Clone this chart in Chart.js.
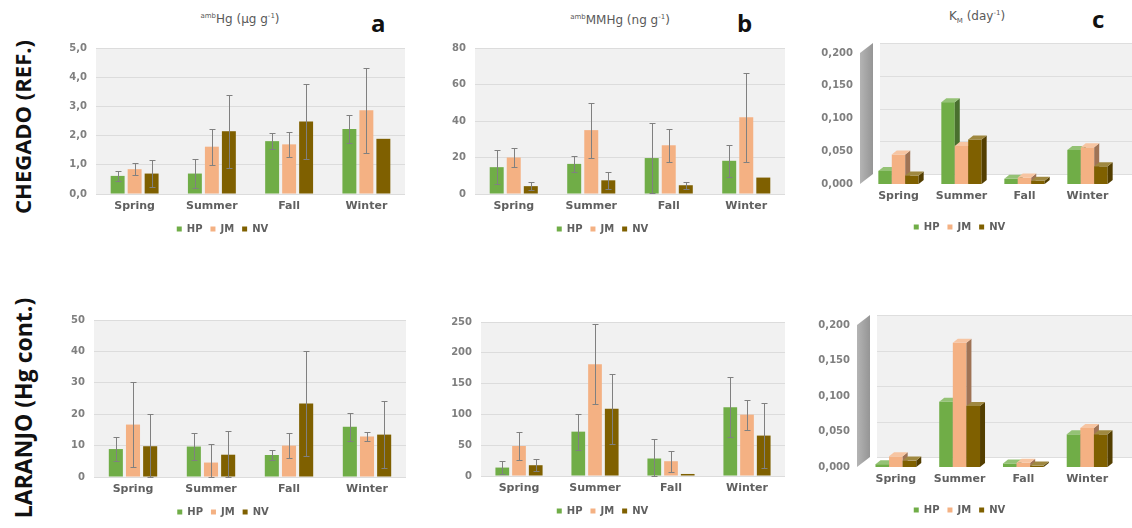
<!DOCTYPE html>
<html>
<head>
<meta charset="utf-8">
<script src="https://cdn.jsdelivr.net/npm/chart.js@4.4.1/dist/chart.umd.min.js"></script>
<style>
  body { margin: 0; width: 1132px; height: 528px; background: #fff; overflow: hidden; position: relative; font-family: "DejaVu Sans", sans-serif; }
  .box { position: absolute; }
  .ttl { position: absolute; color: #595959; font-size: 12px; white-space: nowrap; transform: translateX(-50%); }
  .ttl sup { font-size: 7px; }
  .ttl sub { font-size: 7px; }
  .let { position: absolute; font-family: "Open Sans", sans-serif; font-size: 24px; font-weight: 700; color: #111; }
  .row { position: absolute; font-family: "Open Sans", sans-serif; font-size: 22px; font-weight: 700; color: #111; white-space: nowrap; transform: translate(-50%, -50%) rotate(-90deg); }
</style>
</head>
<body>
<div class="row" style="left:22px; top:127px;">CHEGADO (REF.)</div>
<div class="row" style="left:23px; top:408px; font-size:23px;">LARANJO (Hg cont.)</div>

<div class="ttl" style="left:240px; top:12px;"><sup>amb</sup>Hg (μg g<sup>-1</sup>)</div>
<div class="ttl" style="left:620px; top:13px;"><sup>amb</sup>MMHg (ng g<sup>-1</sup>)</div>
<div class="ttl" style="left:977px; top:9px;">K<sub>M</sub> (day<sup>-1</sup>)</div>
<div class="let" style="left:371px; top:6px;">a</div>
<div class="let" style="left:737px; top:6px;">b</div>
<div class="let" style="left:1092px; top:2px;">c</div>

<div class="box" id="bA1"><canvas id="cA1"></canvas></div>
<div class="box" id="bB1"><canvas id="cB1"></canvas></div>
<div class="box" id="bC1"><canvas id="cC1"></canvas></div>
<div class="box" id="bA2"><canvas id="cA2"></canvas></div>
<div class="box" id="bB2"><canvas id="cB2"></canvas></div>
<div class="box" id="bC2"><canvas id="cC2"></canvas></div>

<script>
// data
const seasons = ['Spring', 'Summer', 'Fall', 'Winter'];
const series = ['HP', 'JM', 'NV'];
const colors = ['#70ad47', '#f4b183', '#7f6000'];

// CHEGADO - ambHg (ug g-1)
const hgRefHP = [0.62, 0.70, 1.81, 2.23];
const hgRefJM = [0.85, 1.62, 1.70, 2.87];
const hgRefNV = [0.70, 2.15, 2.48, 1.89];
const hgRefErrHP = [0.17, 0.50, 0.28, 0.47];
const hgRefErrJM = [0.21, 0.62, 0.42, 1.46];
const hgRefErrNV = [0.46, 1.25, 1.29, 0];
const hgRefTicks = [0, 1, 2, 3, 4, 5];

// CHEGADO - ambMMHg (ng g-1)
const mmhgRefHP = [14.7, 16.5, 19.7, 18.2];
const mmhgRefJM = [20.0, 35.0, 26.7, 42.0];
const mmhgRefNV = [4.3, 7.5, 4.8, 9.0];
const mmhgRefErrHP = [9.3, 4.5, 19.3, 8.8];
const mmhgRefErrJM = [5.0, 15.0, 8.9, 24.5];
const mmhgRefErrNV = [2.3, 4.5, 1.8, 0];
const mmhgRefTicks = [0, 20, 40, 60, 80];

// CHEGADO - KM (day-1)
const kmRefHP = [0.020, 0.125, 0.008, 0.052];
const kmRefJM = [0.045, 0.058, 0.010, 0.056];
const kmRefNV = [0.013, 0.068, 0.005, 0.027];
const kmTicks = [0, 0.05, 0.1, 0.15, 0.2];

// LARANJO - ambHg
const hgConHP = [8.9, 9.7, 7.0, 16.0];
const hgConJM = [16.7, 4.6, 10.0, 12.9];
const hgConNV = [9.8, 7.1, 23.4, 13.5];
const hgConErrHP = [3.8, 4.3, 1.6, 4.5];
const hgConErrJM = [13.6, 5.9, 4.1, 1.4];
const hgConErrNV = [10.2, 7.6, 16.8, 10.6];
const hgConTicks = [0, 10, 20, 30, 40, 50];

// LARANJO - ambMMHg
const mmhgConHP = [13.7, 72.0, 28.4, 111.6];
const mmhgConJM = [48.7, 181.6, 24.0, 99.6];
const mmhgConNV = [17.5, 109.0, 3.3, 65.6];
const mmhgConErrHP = [10.9, 29.0, 31.6, 48.4];
const mmhgConErrJM = [22.3, 64.4, 17.0, 24.4];
const mmhgConErrNV = [9.5, 57.0, 0, 53.1];
const mmhgConTicks = [0, 50, 100, 150, 200, 250];

// LARANJO - KM
const kmConHP = [0.004, 0.092, 0.005, 0.046];
const kmConJM = [0.015, 0.175, 0.006, 0.055];
const kmConNV = [0.009, 0.086, 0.002, 0.046];

const txt = '#606060';
const DX = 5, DY = -4;     // bar depth in 3d panels
const WX = 13, WY = -10;   // back wall offset

function fmt(v, dec) {
    return v.toFixed(dec).replace('.', ',');
}

function shade(hex, f) {
    let n = parseInt(hex.slice(1), 16);
    let r = (n >> 16) & 255, g = (n >> 8) & 255, b = n & 255;
    if (f < 0) { r *= 1 + f; g *= 1 + f; b *= 1 + f; }
    else { r += (255 - r) * f; g += (255 - g) * f; b += (255 - b) * f; }
    return 'rgb(' + Math.round(r) + ',' + Math.round(g) + ',' + Math.round(b) + ')';
}

// flat panels: gray plot background
const plotBg = {
    id: 'plotBg',
    beforeDraw(chart) {
        if (chart.options.plugins.plotBg.is3d) return;
        const a = chart.chartArea, ctx = chart.ctx;
        ctx.save();
        ctx.fillStyle = '#f1f1f1';
        ctx.fillRect(a.left, a.top, a.right - a.left, a.bottom - a.top);
        ctx.restore();
    }
};

// error bars
const errBars = {
    id: 'errBars',
    afterDatasetsDraw(chart) {
        const errs = chart.options.plugins.errBars.errs;
        if (!errs) return;
        const ctx = chart.ctx, y = chart.scales.y;
        ctx.save();
        ctx.strokeStyle = '#808080';
        ctx.lineWidth = 1;
        chart.data.datasets.forEach((ds, i) => {
            chart.getDatasetMeta(i).data.forEach((bar, j) => {
                const e = errs[i][j];
                if (!e) return;
                const v = ds.data[j];
                const x = Math.round(bar.x) + 0.5;
                const t = Math.round(y.getPixelForValue(v + e)) + 0.5;
                const b = Math.round(y.getPixelForValue(Math.max(v - e, 0))) + 0.5;
                ctx.beginPath();
                ctx.moveTo(x, t); ctx.lineTo(x, b);
                ctx.moveTo(x - 3, t); ctx.lineTo(x + 3, t);
                ctx.moveTo(x - 3, b); ctx.lineTo(x + 3, b);
                ctx.stroke();
            });
        });
        ctx.restore();
    }
};

// 3d look for KM panels
const bars3d = {
    id: 'bars3d',
    beforeDatasetsDraw(chart) {
        if (!chart.options.plugins.plotBg.is3d) return;
        const a = chart.chartArea, ctx = chart.ctx, y = chart.scales.y;
        ctx.save();
        // back wall
        ctx.fillStyle = '#f1f1f1';
        ctx.fillRect(a.left + WX, a.top + WY, a.right - a.left, a.bottom - a.top);
        ctx.strokeStyle = '#dedede';
        ctx.lineWidth = 1;
        y.ticks.forEach(t => {
            const py = Math.round(y.getPixelForValue(t.value) + WY) + 0.5;
            ctx.beginPath();
            ctx.moveTo(a.left + WX, py);
            ctx.lineTo(a.right + WX, py);
            ctx.stroke();
        });
        // side wall
        const g = ctx.createLinearGradient(a.left - 7, 0, a.left + WX - 7, 0);
        g.addColorStop(0, '#b4b4b4');
        g.addColorStop(1, '#959595');
        ctx.fillStyle = g;
        ctx.beginPath();
        ctx.moveTo(a.left - 7, a.bottom);
        ctx.lineTo(a.left - 7, a.top);
        ctx.lineTo(a.left - 7 + WX, a.top + WY);
        ctx.lineTo(a.left - 7 + WX, a.bottom + WY);
        ctx.closePath();
        ctx.fill();
        // bars, left to right inside each group
        chart.data.datasets.forEach((ds, i) => {
            const c = ds.backgroundColor;
            chart.getDatasetMeta(i).data.forEach(bar => {
                const l = bar.x - bar.width / 2, r = bar.x + bar.width / 2;
                const t = bar.y, b = bar.base;
                ctx.fillStyle = c;
                ctx.fillRect(l, t, r - l, b - t);
                ctx.fillStyle = shade(c, -0.35);
                ctx.beginPath();
                ctx.moveTo(r, b); ctx.lineTo(r, t);
                ctx.lineTo(r + DX, t + DY); ctx.lineTo(r + DX, b + DY);
                ctx.closePath(); ctx.fill();
                ctx.fillStyle = shade(c, 0.25);
                ctx.beginPath();
                ctx.moveTo(l, t); ctx.lineTo(r, t);
                ctx.lineTo(r + DX, t + DY); ctx.lineTo(l + DX, t + DY);
                ctx.closePath(); ctx.fill();
            });
        });
        ctx.restore();
        return false;
    }
};

function panel(id, box, area, vals, errs, ticks, dec, is3d) {
    const div = document.getElementById('b' + id);
    const xH = is3d ? 30 : 22;
    const legH = 30;
    const h = area.bottom - box.top + xH + legH;
    div.style.left = box.left + 'px';
    div.style.top = box.top + 'px';
    div.style.width = box.width + 'px';
    div.style.height = h + 'px';
    new Chart(document.getElementById('c' + id), {
        type: 'bar',
        data: {
            labels: seasons,
            datasets: series.map((s, i) => ({
                label: s,
                data: vals[i],
                backgroundColor: colors[i],
                borderWidth: 0,
                barPercentage: is3d ? 1.0 : 0.82,
                categoryPercentage: is3d ? 0.64 : 0.66
            }))
        },
        options: {
            responsive: true,
            maintainAspectRatio: false,
            animation: false,
            layout: { padding: { top: area.top - box.top, right: box.left + box.width - area.right, left: 0, bottom: 0 } },
            scales: {
                x: {
                    grid: { display: false, drawTicks: false },
                    border: { display: false },
                    ticks: { color: txt, padding: 6, font: { family: 'DejaVu Sans', size: 11, weight: 'bold' } },
                    afterFit: s => { s.height = xH; }
                },
                y: {
                    min: ticks[0],
                    max: ticks[ticks.length - 1],
                    grid: { display: !is3d, color: '#dcdcdc', drawTicks: false },
                    border: { display: false },
                    ticks: {
                        stepSize: ticks[1] - ticks[0],
                        padding: is3d ? 14 : 9,
                        color: '#7f7f7f',
                        font: { family: 'DejaVu Sans', size: 10, weight: 'bold' },
                        callback: v => fmt(v, dec)
                    },
                    afterFit: s => { s.width = area.left - box.left; }
                }
            },
            plugins: {
                legend: {
                    position: 'bottom',
                    labels: { boxWidth: 5, boxHeight: 5, padding: 8, color: txt, font: { family: 'DejaVu Sans', size: 10, weight: 'bold' } }
                },
                tooltip: { enabled: false },
                plotBg: { is3d: is3d },
                errBars: { errs: errs }
            }
        },
        plugins: [plotBg, errBars, bars3d]
    });
}

panel('A1', { left: 40, top: 33, width: 370 }, { left: 96, right: 405, top: 43, bottom: 192 },
    [hgRefHP, hgRefJM, hgRefNV], [hgRefErrHP, hgRefErrJM, hgRefErrNV], hgRefTicks, 1, false);
panel('B1', { left: 420, top: 33, width: 370 }, { left: 475, right: 785, top: 43, bottom: 192 },
    [mmhgRefHP, mmhgRefJM, mmhgRefNV], [mmhgRefErrHP, mmhgRefErrJM, mmhgRefErrNV], mmhgRefTicks, 0, false);
panel('C1', { left: 800, top: 33, width: 332 }, { left: 867, right: 1119, top: 47, bottom: 182 },
    [kmRefHP, kmRefJM, kmRefNV], null, kmTicks, 3, true);
panel('A2', { left: 40, top: 305, width: 370 }, { left: 94, right: 406, top: 320, bottom: 475 },
    [hgConHP, hgConJM, hgConNV], [hgConErrHP, hgConErrJM, hgConErrNV], hgConTicks, 0, false);
panel('B2', { left: 420, top: 305, width: 370 }, { left: 481, right: 785, top: 322, bottom: 474 },
    [mmhgConHP, mmhgConJM, mmhgConNV], [mmhgConErrHP, mmhgConErrJM, mmhgConErrNV], mmhgConTicks, 0, false);
panel('C2', { left: 800, top: 305, width: 332 }, { left: 864, right: 1119, top: 323, bottom: 465 },
    [kmConHP, kmConJM, kmConNV], null, kmTicks, 3, true);
</script>
</body>
</html>
